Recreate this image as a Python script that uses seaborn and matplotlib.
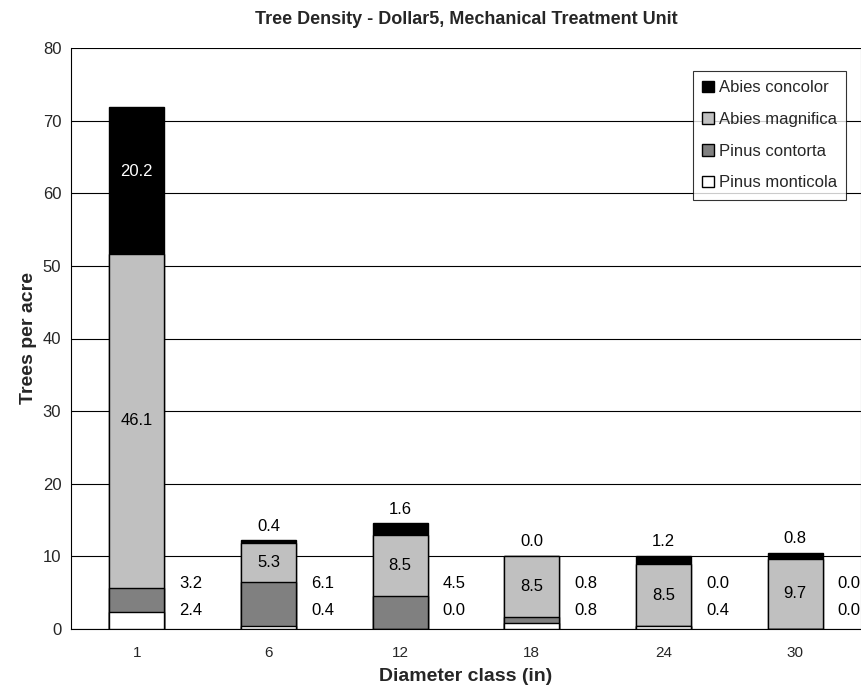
import matplotlib
matplotlib.use("Agg")
import matplotlib.pyplot as plt
import seaborn as sns
import pandas as pd
import numpy as np
from matplotlib.patches import Patch

classes = ["1", "6", "12", "18", "24", "30"]
pinus_monticola = [2.4, 0.4, 0.0, 0.8, 0.4, 0.0]
pinus_contorta = [3.2, 6.1, 4.5, 0.8, 0.0, 0.0]
abies_magnifica = [46.1, 5.3, 8.5, 8.5, 8.5, 9.7]
abies_concolor = [20.2, 0.4, 1.6, 0.0, 1.2, 0.8]

species = ["Pinus monticola", "Pinus contorta", "Abies magnifica", "Abies concolor"]
colors = {"Pinus monticola": "#FFFFFF", "Pinus contorta": "#808080",
          "Abies magnifica": "#C0C0C0", "Abies concolor": "#000000"}

df = pd.DataFrame({"cls": classes,
                   "Pinus monticola": pinus_monticola,
                   "Pinus contorta": pinus_contorta,
                   "Abies magnifica": abies_magnifica,
                   "Abies concolor": abies_concolor})
cum = df[species].cumsum(axis=1)

sns.set_style("white")
plt.rcParams["font.family"] = ["Liberation Sans", "DejaVu Sans"]

fig = plt.figure(figsize=(8.62, 6.91), dpi=100)
ax = fig.add_axes([71/862, 1-629/691, (861-71)/862, (629-48)/691])

W = 0.42
for sp in reversed(species):
    d = pd.DataFrame({"cls": classes, "v": cum[sp].values})
    sns.barplot(data=d, x="cls", y="v", order=classes, color=colors[sp],
                width=W, edgecolor="black", linewidth=1.0, saturation=1,
                ax=ax, zorder=3)

ax.set_ylim(0, 80)
ax.set_xlim(-0.5, len(classes) - 0.5)
ax.set_yticks(np.arange(0, 81, 10))
ax.yaxis.grid(True, color="black", linewidth=0.8, zorder=0)
ax.set_axisbelow(True)
ax.spines["top"].set_visible(False)
ax.spines["left"].set_color("black")
ax.spines["bottom"].set_color("black")
ax.spines["right"].set_color("#808080")
ax.spines["right"].set_linewidth(0.8)

ax.set_xticks(range(len(classes)))
ax.set_xticklabels(classes)
ax.set_xticks(np.arange(-0.5, len(classes), 1), minor=True)
ax.tick_params(axis="x", which="major", length=0, pad=12, labelsize=11)
ax.tick_params(axis="x", which="minor", length=5, direction="out", color="black")
ax.tick_params(axis="y", length=5, direction="out", color="black", labelsize=12, pad=2)

ax.set_xlabel("Diameter class (in)", fontsize=14, fontweight="bold", labelpad=6)
ax.set_ylabel("Trees per acre", fontsize=14, fontweight="bold", labelpad=4)
ax.set_title("Tree Density - Dollar5, Mechanical Treatment Unit",
             fontsize=13, fontweight="bold", pad=17)

fs = 12
for i in range(len(classes)):
    tot = cum["Abies concolor"].iloc[i]
    base_m = cum["Pinus contorta"].iloc[i]
    ax.text(i, base_m + abies_magnifica[i] / 2, f"{abies_magnifica[i]:.1f}",
            ha="center", va="center", fontsize=fs, color="black", zorder=5)
    if i == 0:
        ax.text(i, cum["Abies magnifica"].iloc[i] + abies_concolor[i] / 2 + 1.2,
                f"{abies_concolor[i]:.1f}", ha="center", va="center",
                fontsize=fs, color="white", zorder=5)
    else:
        ax.text(i, tot + 1.9, f"{abies_concolor[i]:.1f}", ha="center",
                va="center", fontsize=fs, color="black", zorder=5)
    ax.text(i + W / 2 + 0.2, 6.3, f"{pinus_contorta[i]:.1f}", ha="center",
            va="center", fontsize=fs, color="black", zorder=5)
    ax.text(i + W / 2 + 0.2, 2.5, f"{pinus_monticola[i]:.1f}", ha="center",
            va="center", fontsize=fs, color="black", zorder=5)

handles = [Patch(facecolor=colors[s], edgecolor="black", label=s)
           for s in reversed(species)]
leg = ax.legend(handles=handles, loc="upper right", bbox_to_anchor=(0.981, 0.960),
                borderaxespad=0, fontsize=12, frameon=True, fancybox=False,
                handlelength=0.7, handleheight=0.7, handletextpad=0.3,
                borderpad=0.55, labelspacing=1.0)
leg.get_frame().set_edgecolor("black")
leg.get_frame().set_linewidth(0.8)

fig.savefig("out.png", dpi=100)
